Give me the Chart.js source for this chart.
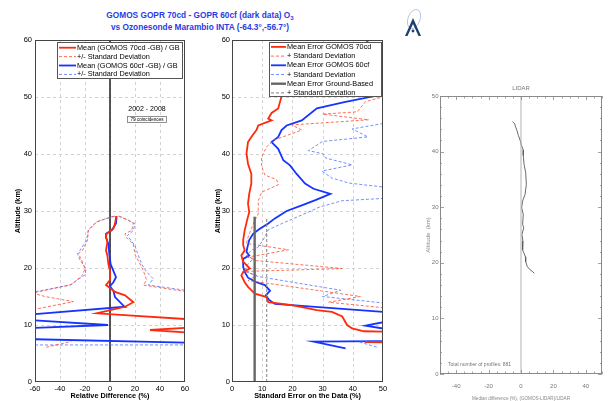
<!DOCTYPE html>
<html>
<head>
<meta charset="utf-8">
<script src="https://cdn.jsdelivr.net/npm/chart.js@4.4.1/dist/chart.umd.min.js"></script>
<style>
html, body { margin: 0; padding: 0; background: #fff; width: 611px; height: 401px; overflow: hidden; position: relative; font-family: "Liberation Sans", Arial, sans-serif; }
canvas { position: absolute; }
#c1 { left: 0; top: 30px; }
#c2 { left: 200px; top: 30px; }
#c3 { left: 400px; top: 70px; }
.ttl { position: absolute; left: 0; width: 400px; text-align: center; color: #2b3ae6; font-weight: bold; font-size: 8.3px; white-space: nowrap; line-height: 10px; }
.ttl sub { font-size: 6px; vertical-align: -2px; line-height: 0; }
</style>
</head>
<body>
<div class="ttl" style="top:10px">GOMOS GOPR 70cd - GOPR 60cf (dark data) O<sub>3</sub></div>
<div class="ttl" style="top:22px">vs Ozonesonde Marambio INTA (-64.3°,-56.7°)</div>
<svg style="position:absolute;left:402px;top:8px" width="24" height="32">
  <ellipse cx="12" cy="11" rx="6" ry="10" transform="rotate(20 12 11)" fill="none" stroke="#9db8d6" stroke-width="0.7"/>
  <path d="M3 28 L11 10 L19 28 L16.5 28 L11 16 L5.5 28 Z" fill="#1d3f6e"/>
  <circle cx="11" cy="23" r="1.4" fill="#1d3f6e"/>
</svg>
<canvas id="c1" width="200" height="371"></canvas>
<canvas id="c2" width="200" height="371"></canvas>
<canvas id="c3" width="211" height="331"></canvas>
<script>
// ---- left panel: relative difference (%) vs altitude (km), pairs are [value, altitude]
const mean70cd = [[5,29.1],[4,27.8],[2.7,26.9],[-2.7,26],[-3.2,25.4],[-2.1,24.6],[-3.2,23.1],[-2.1,22.2],[-1.3,20.7],[0,19.5],[0,17.9],[-3.2,17],[0,16.5],[4,15.8],[12,15.2],[18.7,14],[12,13.2],[-10.7,12.05],[80,10.77],[80,9.77],[32,9.12],[80,8.4]];
const mean60cf = [[5.3,29.1],[4.8,27.8],[1.3,26.6],[-3.2,26],[-3.2,25.4],[-1.3,24.2],[-0.5,22.4],[0.5,20.7],[2.7,19.5],[4.8,18.4],[2.7,17.5],[0,16.8],[2.7,16],[4,14.9],[10.7,13.4],[12,13.2],[-80,11.55],[-80,11.1],[-1.6,10],[-80,9.3],[-80,7.6],[80,6.8]];
const sd70Left = [[4,29.1],[-2.7,28.7],[-10.7,28.1],[-17.3,26.6],[-18,24.9],[-21.9,23.1],[-25.3,22.5],[-22.7,21.4],[-20,19.9],[-21.9,18.8],[-30.7,17.1],[-62,15.6],[-52,15],[-29.3,14.1],[-80,11.9]];
const sd70Right = [[6.7,29.1],[14.7,28.4],[18.7,27.8],[17.3,26.6],[12,26],[12.8,25.4],[18.7,24.2],[20,22.4],[24,20.7],[26.7,19.5],[29.3,17.9],[26.7,17],[80,15.2]];
const sd70Low = [[-51,6.1],[-31,7.1]];
const sd60Left = [[3,29.1],[-10.7,28.1],[-17.3,26.7],[-18.7,24.9],[-24,23.1],[-26,22.5],[-24,21.4],[-19.2,19.9],[-20,18.8],[-32,17],[-80,15]];
const sd60Right = [[7.5,29.1],[20,27.8],[18.7,26.6],[13.9,25.7],[20,23.9],[22.7,22.2],[25.3,20.7],[29.3,19.3],[34.7,18.1],[30.7,17],[80,15.5]];
const sd60Low = [[-80,6.5],[80,6.5]];

// ---- middle panel: standard error (%) vs altitude (km)
const err70cd = [[47,61],[40,57],[30,54],[20,51.5],[16.5,50.3],[15.3,48],[13.1,47.2],[12,46.2],[13.1,45.9],[8.7,45],[8.1,44.2],[6.4,43],[5.3,42.1],[4.8,40.1],[5.3,38.3],[6.4,36.5],[6.4,34.8],[5.7,33],[5.3,31.3],[5.7,29.8],[5,28.4],[4.2,26.6],[3.7,24.9],[3.7,24],[4.2,23.1],[3.1,22.2],[3.7,21.1],[5.9,19.9],[3.7,19.3],[3.1,18.7],[4.2,17.5],[5.3,16.7],[6.4,16.1],[7.6,15.5],[11.4,14.9],[12,14],[19.8,13.5],[28.1,12.6],[33.1,12.3],[36.5,11.5],[38.1,10],[39.8,9.4],[43.7,8.9],[60,8.7],[60,7.15],[44,7],[60,6.85]];
const err60cf = [[60,51.5],[37.2,49.1],[28.1,48],[23.1,45.9],[18.1,45],[16.4,44.2],[15.3,43],[13.1,42.1],[15.3,40.9],[17,38.9],[19.2,38],[21.4,36.5],[24.2,34.8],[27,33.9],[32.6,33],[27.6,31.9],[23.1,31],[18.1,30],[14.2,28.7],[12,27.8],[9.2,26.9],[7,26],[5.7,24.9],[5,23.4],[4.8,22.8],[5.7,22.2],[3.7,21.6],[3.7,20.2],[4.2,19.3],[5.3,18.3],[8.1,17.5],[10.9,17],[12.6,16],[11.2,15.2],[12.3,14.4],[14.2,13.7],[60,11.9],[60,11.5],[44.2,9.9],[60,8.5],[60,7.2],[27,7.07],[37.6,5.9]];
const errSd70 = [[60,52],[49.2,49.9],[44.2,49.2],[41.5,47.4],[30,47],[45.3,46],[19.8,45.1],[23.1,44.2],[14.2,42.5],[11.5,41.3],[9.8,39.5],[9.8,37.8],[10.9,36.3],[14.8,35.5],[15.3,34.6],[9.8,33.3],[8.7,31.8],[8.7,30.4],[8.7,29.5],[7.6,28.4],[6.4,26.9],[5.3,25.4],[4.8,24.3],[18.7,23.2],[5.3,21.9],[8.1,21.3],[36.5,19.9],[4.2,19.4],[8.1,18.7],[5.3,17.8],[42.5,15],[32,14],[60,12.5]];
const errSd60 = [[60,45.6],[49.5,45.3],[39.8,44.4],[45,43],[30,42.2],[25.3,40.6],[30.3,40],[31,39.3],[39.8,38.1],[29.8,37],[33,35.8],[38.7,34.9],[60,33.6],[60,32.5],[36.4,31.8],[29,30.7],[23.1,29.3],[16.5,27.8],[12,26.7],[10.3,24.9],[8.7,23.7],[6.4,23.1],[4.8,22.2],[7,21.6],[5.3,20.7],[4.2,19.5],[8.7,18.5],[36,16.1],[30,15],[60,13.3]];
const errSd60Low = [[60,7.15],[42,7.05],[48.1,6.1]];
const gbMean = [[7.5,0],[7.5,29]];
const gbSd = [[11.5,0],[11.5,28.8]];

// ---- right panel: LIDAR median difference (%) vs altitude (km)
const lidarDiff = [[-5.2,45.4],[-3.9,45],[-3.3,44.4],[-2.5,43.8],[-1.6,42.9],[-0.6,42.1],[0.2,41.2],[1.4,40.3],[1.4,39.3],[1.9,37.7],[2.9,36.2],[3.3,34.1],[2.5,32.3],[1,31.1],[0.4,29.9],[1.4,28.7],[1,26.9],[1.7,26.3],[0.6,25.1],[1.2,23.9],[1,22.3],[1.9,21.7],[2.7,21.1],[2.9,20.2],[3.9,19.3],[5.4,18.8],[6.8,18.5],[8.3,18.1]];
const zeroLine = [[0,0],[0,50]];

const legendLeft = ['Mean (GOMOS 70cd -GB) / GB', '+/- Standard Deviation', 'Mean (GOMOS 60cf -GB) / GB', '+/- Standard Deviation'];
const legendMid = ['Mean Error GOMOS 70cd', '+ Standard Deviation', 'Mean Error GOMOS 60cf', '+ Standard Deviation', 'Mean Error Ground-Based', '+ Standard Deviation'];

const FONT = '"Liberation Sans", Arial, sans-serif';
const NARROW = '"Liberation Sans Narrow", "Liberation Sans", Arial, sans-serif';
const RED = '#ff2a0c', RED_D = 'rgba(255,75,45,0.8)';
const BLUE = '#1634ff', BLUE_D = 'rgba(70,105,255,0.75)';
const GRAY = '#666666', GRAY_D = '#808080';

Chart.defaults.font.family = FONT;
Chart.defaults.color = '#000';

const pts = a => a.map(p => ({x: p[0], y: p[1]}));
function line(data, color, width, dash) {
  return {data: pts(data), showLine: true, borderColor: color, borderWidth: width,
          borderDash: dash || [], pointRadius: 0, fill: false, tension: 0};
}

function frame(chart, color) {
  const {ctx, chartArea: a} = chart;
  ctx.save();
  ctx.strokeStyle = color; ctx.lineWidth = 1; ctx.setLineDash([]);
  ctx.strokeRect(a.left + 0.5, a.top + 0.5, a.width - 1, a.height - 1);
  ctx.restore();
}

function dashedGrid(chart) {
  const {ctx, chartArea: a, scales: {x, y}} = chart;
  ctx.save();
  ctx.strokeStyle = '#d2d2d2'; ctx.lineWidth = 1; ctx.setLineDash([3, 3]);
  x.ticks.forEach(t => {
    const p = Math.round(x.getPixelForValue(t.value)) + 0.5;
    if (p > a.left + 2 && p < a.right - 2) { ctx.beginPath(); ctx.moveTo(p, a.top); ctx.lineTo(p, a.bottom); ctx.stroke(); }
  });
  y.ticks.forEach(t => {
    const p = Math.round(y.getPixelForValue(t.value)) + 0.5;
    if (p > a.top + 2 && p < a.bottom - 2) { ctx.beginPath(); ctx.moveTo(a.left, p); ctx.lineTo(a.right, p); ctx.stroke(); }
  });
  ctx.restore();
}

function drawLegend(chart, L) {
  const ctx = chart.ctx;
  ctx.save();
  ctx.fillStyle = '#fff';
  ctx.fillRect(L.x, L.y, L.w, L.h);
  ctx.strokeStyle = '#555'; ctx.lineWidth = 1; ctx.setLineDash([]);
  ctx.strokeRect(L.x + 0.5, L.y + 0.5, L.w - 1, L.h - 1);
  ctx.font = '7.3px ' + FONT;
  ctx.textBaseline = 'middle';
  L.items.forEach((it, i) => {
    const yy = L.y + L.first + i * L.step;
    ctx.strokeStyle = it.color; ctx.lineWidth = it.width; ctx.setLineDash(it.dash);
    ctx.beginPath(); ctx.moveTo(L.x + 2, yy); ctx.lineTo(L.x + L.sample, yy); ctx.stroke();
    ctx.fillStyle = '#000';
    ctx.fillText(it.text, L.x + L.sample + 1, yy);
  });
  ctx.restore();
}

const fixSize = n => s => { if (s.isHorizontal()) s.height = n; else s.width = n; };
const noGrid = {display: false, drawTicks: false};

// ---------- left chart
new Chart(document.getElementById('c1'), {
  type: 'scatter',
  data: {datasets: [
    line(sd70Left, RED_D, 1, [3, 2]),
    line(sd70Right, RED_D, 1, [3, 2]),
    line(sd70Low, RED_D, 1, [3, 2]),
    line(sd60Left, BLUE_D, 1, [3, 2]),
    line(sd60Right, BLUE_D, 1, [3, 2]),
    line(sd60Low, BLUE_D, 1, [3, 2]),
    line(mean70cd, RED, 1.8),
    line(mean60cf, BLUE, 1.8),
    line([[0, 0], [0, 60]], '#111', 1.4)
  ]},
  options: {
    responsive: false, animation: false,
    layout: {padding: {top: 10, right: 15, left: 0, bottom: 0}},
    plugins: {legend: {display: false}, tooltip: {enabled: false}},
    scales: {
      x: {type: 'linear', min: -60, max: 60, grid: noGrid, border: {display: false},
          ticks: {stepSize: 20, padding: 2, font: {size: 7.5}, autoSkip: false, maxRotation: 0},
          title: {display: true, text: 'Relative Difference (%)', font: {size: 7.3, weight: 'bold'}, padding: 1},
          afterFit: fixSize(19)},
      y: {type: 'linear', min: 0, max: 60, grid: noGrid, border: {display: false},
          ticks: {stepSize: 10, padding: 3, font: {size: 7.5}, autoSkip: false},
          title: {display: true, text: 'Altitude (km)', font: {size: 7.3, weight: 'bold'}, padding: {top: 14}},
          afterFit: fixSize(35)}
    }
  },
  plugins: [{
    id: 'decoA',
    beforeDatasetsDraw(chart) { dashedGrid(chart); },
    afterDatasetsDraw(chart) {
      frame(chart, '#444');
      drawLegend(chart, {x: 57, y: 12, w: 126, h: 37, first: 5.7, step: 8.9, sample: 19, items: [
        {text: legendLeft[0], color: RED, width: 1.8, dash: []},
        {text: legendLeft[1], color: RED_D, width: 1, dash: [3, 2]},
        {text: legendLeft[2], color: BLUE, width: 1.8, dash: []},
        {text: legendLeft[3], color: BLUE_D, width: 1, dash: [3, 2]}
      ]});
      const ctx = chart.ctx;
      ctx.save();
      ctx.fillStyle = '#000'; ctx.textAlign = 'center'; ctx.textBaseline = 'middle';
      ctx.font = '7px ' + FONT;
      ctx.fillText('2002 - 2008', 147, 79);
      ctx.strokeStyle = '#777'; ctx.lineWidth = 0.8;
      ctx.strokeRect(127.5, 86.5, 39, 6);
      ctx.font = '4.6px ' + FONT;
      ctx.fillText('79 coincidences', 147, 89.7);
      ctx.restore();
    }
  }]
});

// ---------- middle chart
new Chart(document.getElementById('c2'), {
  type: 'scatter',
  data: {datasets: [
    line(gbSd, GRAY_D, 1, [3, 2]),
    line(gbMean, GRAY, 2.4),
    line(errSd70, RED_D, 1, [3, 2]),
    line(errSd60, BLUE_D, 1, [3, 2]),
    line(errSd60Low, BLUE_D, 1, [3, 2]),
    line(err70cd, RED, 1.8),
    line(err60cf, BLUE, 1.8)
  ]},
  options: {
    responsive: false, animation: false,
    layout: {padding: {top: 10, right: 17, left: 0, bottom: 0}},
    plugins: {legend: {display: false}, tooltip: {enabled: false}},
    scales: {
      x: {type: 'linear', min: 0, max: 50, grid: noGrid, border: {display: false},
          ticks: {stepSize: 10, padding: 2, font: {size: 7.5}, autoSkip: false, maxRotation: 0},
          title: {display: true, text: 'Standard Error on the Data (%)', font: {size: 7.3, weight: 'bold'}, padding: 1},
          afterFit: fixSize(19)},
      y: {type: 'linear', min: 0, max: 60, grid: noGrid, border: {display: false},
          ticks: {stepSize: 10, padding: 2, font: {size: 7.5}, autoSkip: false},
          title: {display: true, text: 'Altitude (km)', font: {size: 7.3, weight: 'bold'}, padding: {top: 14}},
          afterFit: fixSize(32)}
    }
  },
  plugins: [{
    id: 'decoB',
    beforeDatasetsDraw(chart) { dashedGrid(chart); },
    afterDatasetsDraw(chart) {
      frame(chart, '#444');
      drawLegend(chart, {x: 69, y: 12, w: 113, h: 55, first: 4.9, step: 9.2, sample: 17, items: [
        {text: legendMid[0], color: RED, width: 1.8, dash: []},
        {text: legendMid[1], color: RED_D, width: 1, dash: [3, 2]},
        {text: legendMid[2], color: BLUE, width: 1.8, dash: []},
        {text: legendMid[3], color: BLUE_D, width: 1, dash: [3, 2]},
        {text: legendMid[4], color: GRAY, width: 2.4, dash: []},
        {text: legendMid[5], color: GRAY_D, width: 1, dash: [3, 2]}
      ]});
    }
  }]
});

// ---------- right chart
new Chart(document.getElementById('c3'), {
  type: 'scatter',
  data: {datasets: [
    line(zeroLine, '#b0b0b0', 1),
    line(lidarDiff, '#5a5a5a', 0.9)
  ]},
  options: {
    responsive: false, animation: false,
    layout: {padding: {top: 26, right: 0, left: 0, bottom: 0}},
    plugins: {legend: {display: false}, tooltip: {enabled: false}},
    scales: {
      x: {type: 'linear', min: -50, max: 50, grid: noGrid, border: {display: false},
          ticks: {stepSize: 10, padding: 9, color: '#777', font: {size: 6, family: NARROW}, autoSkip: false, maxRotation: 0,
                  callback: v => (v % 20 === 0 ? String(v) : '')},
          title: {display: true, text: 'Median difference (%), (GOMOS-LIDAR)/LIDAR', color: '#888', font: {size: 4.6, family: NARROW}, padding: 0},
          afterFit: fixSize(27)},
      y: {type: 'linear', min: 0, max: 50, grid: noGrid, border: {display: false},
          ticks: {stepSize: 10, padding: 1.5, color: '#777', font: {size: 6, family: NARROW}, autoSkip: false},
          title: {display: true, text: 'Altitude  (km)', color: '#888', font: {size: 6, family: NARROW}, padding: {top: 25}},
          afterFit: fixSize(40)}
    }
  },
  plugins: [{
    id: 'decoC',
    afterDatasetsDraw(chart) {
      const {ctx, chartArea: a, scales: {x, y}} = chart;
      frame(chart, '#8a8a8a');
      ctx.save();
      ctx.strokeStyle = '#8a8a8a'; ctx.lineWidth = 0.8;
      for (let v = 0; v <= 50; v += 2) {
        const p = Math.round(y.getPixelForValue(v)) + 0.5;
        const len = v % 10 === 0 ? 4 : 2;
        ctx.beginPath(); ctx.moveTo(a.left, p); ctx.lineTo(a.left + len, p);
        ctx.moveTo(a.right, p); ctx.lineTo(a.right - len, p); ctx.stroke();
      }
      for (let v = -50; v <= 50; v += 5) {
        const p = Math.round(x.getPixelForValue(v)) + 0.5;
        const len = v % 20 === 0 ? 4 : 2.5;
        ctx.beginPath(); ctx.moveTo(p, a.top); ctx.lineTo(p, a.top + len);
        ctx.moveTo(p, a.bottom); ctx.lineTo(p, a.bottom - len); ctx.stroke();
      }
      ctx.fillStyle = '#777'; ctx.textAlign = 'center'; ctx.textBaseline = 'middle';
      ctx.font = '6px ' + NARROW;
      ctx.fillText('LIDAR', (a.left + a.right) / 2, a.top - 7.5);
      ctx.textAlign = 'left';
      ctx.font = '5px ' + NARROW;
      ctx.fillText('Total number of profiles: 881', a.left + 8, a.bottom - 9);
      ctx.restore();
    }
  }]
});
</script>
</body>
</html>
